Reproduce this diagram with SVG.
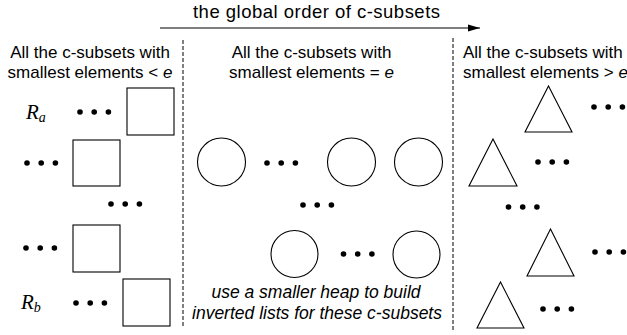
<svg xmlns="http://www.w3.org/2000/svg" width="627" height="335" viewBox="0 0 627 335">
<defs>
<style>
.shape{fill:#fff;stroke:#000;stroke-width:1.1}
.dot{fill:#000}
.lbl{font-family:"Liberation Sans",Arial,Helvetica,sans-serif;font-size:17px;fill:#000}
.ttl{font-family:"Liberation Sans",Arial,Helvetica,sans-serif;font-size:18.5px;fill:#000}
.note{font-family:"Liberation Sans",Arial,Helvetica,sans-serif;font-size:17.5px;font-style:italic;fill:#000}
.math{font-family:"Liberation Serif","DejaVu Serif",serif;font-style:italic;fill:#000}
.div{stroke:#000;stroke-width:1;stroke-dasharray:4 2;fill:none}
</style>
<g id="dots3">
<circle class="dot" cx="0" cy="0" r="2.8"/>
<circle class="dot" cx="14.2" cy="0" r="2.8"/>
<circle class="dot" cx="28.4" cy="0" r="2.8"/>
</g>
<marker id="ah" markerWidth="12" markerHeight="8" refX="12" refY="4" orient="auto" markerUnits="userSpaceOnUse">
<polygon points="0,0.5 12,4 0,7.5" fill="#000"/>
</marker>
</defs>
<rect width="627" height="335" fill="#fff"/>

<g id="title">
<text class="ttl" x="316.5" y="18" text-anchor="middle" textLength="247" lengthAdjust="spacing">the global order of c-subsets</text>
</g>

<g id="connectors">
<line x1="160" y1="28" x2="480" y2="28" stroke="#000" stroke-width="1.2" marker-end="url(#ah)"/>
</g>

<g id="dividers">
<line class="div" x1="183" y1="40" x2="183" y2="327"/>
<line class="div" x1="453" y1="38" x2="453" y2="330"/>
</g>

<g id="label-left">
<text class="lbl" x="90" y="57.5" text-anchor="middle">All the c-subsets with</text>
<text class="lbl" x="90" y="77.5" text-anchor="middle">smallest elements &lt; <tspan font-style="italic">e</tspan></text>
</g>
<g id="label-center">
<text class="lbl" x="311.5" y="57.5" text-anchor="middle">All the c-subsets with</text>
<text class="lbl" x="311.5" y="77.5" text-anchor="middle">smallest elements = <tspan font-style="italic">e</tspan></text>
</g>
<g id="label-right">
<text class="lbl" x="463" y="57.5">All the c-subsets with</text>
<text class="lbl" x="463" y="77.5">smallest elements &gt; <tspan font-style="italic">e</tspan></text>
</g>

<g id="Ra">
<text class="math" x="26" y="119" font-size="21">R<tspan font-size="14" dy="3">a</tspan></text>
</g>
<g id="Rb">
<text class="math" x="21" y="309" font-size="21">R<tspan font-size="14" dy="3">b</tspan></text>
</g>

<g id="sq1"><rect class="shape" x="127" y="88" width="47" height="47"/></g>
<g id="sq2"><rect class="shape" x="73" y="140" width="47" height="46"/></g>
<g id="sq3"><rect class="shape" x="73" y="225" width="47" height="47"/></g>
<g id="sq4"><rect class="shape" x="123" y="279" width="47" height="47"/></g>

<g id="c1"><circle class="shape" cx="221.5" cy="162" r="24"/></g>
<g id="c2"><circle class="shape" cx="351.5" cy="162" r="24"/></g>
<g id="c3"><circle class="shape" cx="418.5" cy="162" r="24"/></g>
<g id="c4"><circle class="shape" cx="294.5" cy="254" r="23.5"/></g>
<g id="c5"><circle class="shape" cx="416.5" cy="254.5" r="23.5"/></g>

<g id="t1"><polygon class="shape" points="548.5,86 572,132 525,132"/></g>
<g id="t2"><polygon class="shape" points="493,139 517,186 469,186"/></g>
<g id="t3"><polygon class="shape" points="550.5,229 574,276 527,276"/></g>
<g id="t4"><polygon class="shape" points="500.5,282 524,328 477,328"/></g>

<g id="dots-1"><use href="#dots3" x="80" y="112"/></g>
<g id="dots-2"><use href="#dots3" x="27" y="163"/></g>
<g id="dots-3"><use href="#dots3" x="267" y="163"/></g>
<g id="dots-4"><use href="#dots3" x="111" y="204"/></g>
<g id="dots-5"><use href="#dots3" x="26" y="248"/></g>
<g id="dots-6"><use href="#dots3" x="76" y="303"/></g>
<g id="dots-7"><use href="#dots3" x="303" y="205"/></g>
<g id="dots-8"><use href="#dots3" x="343.5" y="254"/></g>
<g id="dots-9"><use href="#dots3" x="594" y="107"/></g>
<g id="dots-10"><use href="#dots3" x="538" y="162"/></g>
<g id="dots-11"><use href="#dots3" x="508.5" y="207"/></g>
<g id="dots-12"><use href="#dots3" x="595" y="252"/></g>
<g id="dots-13"><use href="#dots3" x="543" y="309"/></g>

<g id="note">
<text class="note" x="316" y="298" text-anchor="middle">use a smaller heap to build</text>
<text class="note" x="317" y="319" text-anchor="middle">inverted lists for these c-subsets</text>
</g>
</svg>
